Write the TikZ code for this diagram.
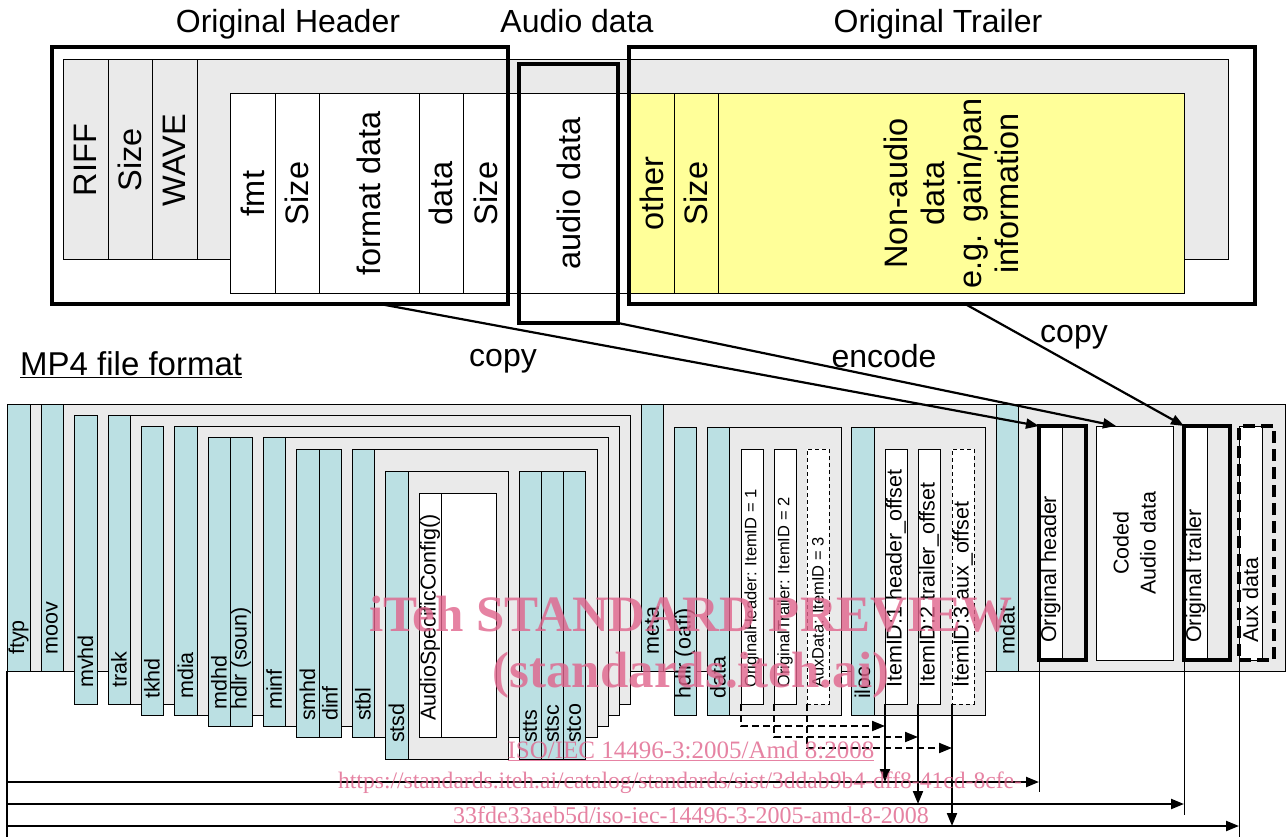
\documentclass[tikz,border=0pt]{standalone}
\usepackage{fontspec}
\setmainfont{Liberation Sans}
\newfontfamily\wmfont{Liberation Serif}
\usetikzlibrary{arrows.meta,calc}
\definecolor{boxgray}{RGB}{234,234,234}
\definecolor{boxcyan}{RGB}{187,224,227}
\definecolor{boxyellow}{RGB}{255,255,153}
\definecolor{wmpink}{RGB}{224,100,140}
\newcommand{\bx}[6]{\node[cell,#6,minimum width={#4-#2},minimum height={#5-#3}] (#1) at ({(#2+#4)/2},{(#3+#5)/2}) {};}
\begin{document}
\begin{tikzpicture}[x=1pt,y=-1pt,
  cell/.style={draw,rectangle,inner sep=0pt,outer sep=0pt,line width=1pt},
  gr/.style={fill=boxgray}, cy/.style={fill=boxcyan}, wh/.style={fill=white}, ye/.style={fill=boxyellow},
  thickbox/.style={line width=4.5pt},
  thickboxb/.style={line width=3.5pt},
  finedash/.style={dash pattern=on 4pt off 3pt},
  tlab/.style={rotate=90,font=\fontsize{32.5}{37}\selectfont,inner sep=0pt,align=center},
  blab/.style={rotate=90,anchor=west,font=\fontsize{21.5}{27}\selectfont,inner sep=0pt,align=center},
  slab/.style={blab,font=\fontsize{16.5}{19}\selectfont},
  title/.style={font=\fontsize{32}{36}\selectfont,anchor=base,inner sep=0pt},
  conn/.style={line width=2.2pt},
  arr/.style={-{Triangle[length=13pt,width=10pt]}},
  wm/.style={text=wmpink,text opacity=0.8,inner sep=0pt,anchor=base}]
\useasboundingbox (0,0) rectangle (1288,837);
\fill[white] (0,0) rectangle (1288,837);
% ---------- top: WAV file ----------
\bx{riffbg}{63}{60}{1228}{260}{gr}
\bx{riff}{63}{60}{108}{260}{gr}
\bx{size1}{108}{60}{152}{260}{gr}
\bx{wave}{152}{60}{197}{260}{gr}
\bx{fmt}{230}{94}{275}{293}{wh}
\bx{size2}{275}{94}{319}{293}{wh}
\bx{fdata}{319}{94}{419}{293}{wh}
\bx{datac}{419}{94}{463}{293}{wh}
\bx{size3}{463}{94}{508}{293}{wh}
\bx{audio}{508}{94}{630}{293}{wh}
\bx{other}{630}{94}{674}{293}{ye}
\bx{size4}{674}{94}{718}{293}{ye}
\bx{nonaudio}{718}{94}{1184}{293}{ye}
\node[tlab] (lriff) at (riff) {RIFF};
\node[tlab] (lsize1) at (size1) {Size};
\node[tlab] (lwave) at (wave) {WAVE};
\node[tlab] (lfmt) at (fmt) {fmt};
\node[tlab] (lsize2) at (size2) {Size};
\node[tlab] (lfdata) at (fdata) {format data};
\node[tlab] (ldatac) at (datac) {data};
\node[tlab] (lsize3) at (size3) {Size};
\node[tlab] (laudio) at (audio) {audio data};
\node[tlab] (lother) at (other) {other};
\node[tlab] (lsize4) at (size4) {Size};
\node[tlab] (lnon) at (nonaudio) {Non-audio\\data\\e.g. gain/pan\\information};
\bx{OH}{52}{47}{508}{304}{thickbox}
\bx{AD}{519}{64}{618}{323}{thickbox}
\bx{OT}{629}{47}{1255}{304}{thickbox}
\node[title] (tOH) at (288,33) {Original Header};
\node[title] (tAD) at (577,33) {Audio data};
\node[title] (tOT) at (938,33) {Original Trailer};
% ---------- bottom: MP4 file ----------
\node[title,anchor=base west,font=\fontsize{33}{37}\selectfont] (mp4) at (20,375) {\underline{MP4 file format}};
\bx{file}{7}{404}{1285}{671}{gr}
\bx{ftyp}{7}{404}{30}{671}{cy}
\bx{moov}{41}{404}{63}{671}{cy}
\bx{mvhd}{74}{415}{97}{704}{cy}
\bx{trakC}{108}{415}{630}{704}{gr}
\bx{trak}{108}{415}{130}{704}{cy}
\bx{tkhd}{141}{426}{163}{715}{cy}
\bx{mdiaC}{174}{426}{619}{715}{gr}
\bx{mdia}{174}{426}{197}{715}{cy}
\bx{mdhd}{208}{437}{230}{726}{cy}
\bx{hdlrs}{230}{437}{252}{726}{cy}
\bx{minfC}{263}{437}{608}{726}{gr}
\bx{minf}{263}{437}{285}{726}{cy}
\bx{smhd}{296}{449}{319}{737}{cy}
\bx{dinf}{319}{449}{341}{737}{cy}
\bx{stblC}{352}{449}{597}{737}{gr}
\bx{stbl}{352}{449}{374}{737}{cy}
\bx{stsdC}{385}{471}{508}{759}{gr}
\bx{stsd}{385}{471}{408}{759}{cy}
\bx{ascC}{419}{493}{496}{737}{wh}
\bx{asc}{419}{493}{441}{737}{wh}
\bx{stts}{519}{471}{541}{759}{cy}
\bx{stsc}{541}{471}{563}{759}{cy}
\bx{stco}{563}{471}{585}{759}{cy}
\bx{meta}{641}{404}{663}{671}{cy}
\bx{hdlro}{674}{427}{696}{715}{cy}
\bx{dataC}{707}{427}{841}{715}{gr}
\bx{data}{707}{427}{729}{715}{cy}
\bx{item1}{741}{449}{763}{704}{wh}
\bx{item2}{774}{449}{796}{704}{wh}
\bx{item3}{807}{449}{829}{704}{wh,finedash}
\bx{ilocC}{851}{427}{985}{715}{gr}
\bx{iloc}{851}{427}{874}{715}{cy}
\bx{off1}{885}{449}{907}{704}{wh}
\bx{off2}{918}{449}{940}{704}{wh}
\bx{off3}{952}{449}{974}{704}{wh,finedash}
\bx{mdat}{996}{404}{1018}{671}{cy}
\bx{mOHin}{1039}{426}{1062}{660}{wh}
\bx{mOH}{1039}{426}{1086}{660}{thickboxb}
\bx{coded}{1096}{426}{1173}{660}{wh}
\bx{mOTin}{1184}{426}{1207}{660}{wh}
\bx{mOT}{1184}{426}{1230}{660}{thickboxb}
\bx{mAuxin}{1239}{426}{1262}{660}{wh}
\bx{mAux}{1239}{426}{1274}{660}{thickboxb,dash pattern=on 12pt off 6pt}
% labels
\node[blab] (lftyp) at ([yshift=16pt]ftyp.south) {ftyp};
\node[blab] (lmoov) at ([yshift=16pt]moov.south) {moov};
\node[blab] (lmvhd) at ([yshift=16pt]mvhd.south) {mvhd};
\node[blab] (ltrak) at ([yshift=16pt]trak.south) {trak};
\node[blab] (ltkhd) at ([yshift=16pt]tkhd.south) {tkhd};
\node[blab] (lmdia) at ([yshift=16pt]mdia.south) {mdia};
\node[blab] (lmdhd) at ([yshift=16pt]mdhd.south) {mdhd};
\node[blab] (lhdlrs) at ([yshift=16pt]hdlrs.south) {hdlr (soun)};
\node[blab] (lminf) at ([yshift=16pt]minf.south) {minf};
\node[blab] (lsmhd) at ([yshift=16pt]smhd.south) {smhd};
\node[blab] (ldinf) at ([yshift=16pt]dinf.south) {dinf};
\node[blab] (lstbl) at ([yshift=16pt]stbl.south) {stbl};
\node[blab] (lstsd) at ([yshift=16pt]stsd.south) {stsd};
\node[blab] (lasc) at ([yshift=16pt]asc.south) {AudioSpecificConfig()};
\node[blab] (lstts) at ([yshift=16pt]stts.south) {stts};
\node[blab] (lstsc) at ([yshift=16pt]stsc.south) {stsc};
\node[blab] (lstco) at ([yshift=16pt]stco.south) {stco};
\node[blab] (lmeta) at ([yshift=16pt]meta.south) {meta};
\node[blab] (lhdlro) at ([yshift=16pt]hdlro.south) {hdlr (oafi)};
\node[blab] (ldata) at ([yshift=16pt]data.south) {data};
\node[slab] (litem1) at ([yshift=16pt]item1.south) {OriginalHeader: ItemID = 1};
\node[slab] (litem2) at ([yshift=16pt]item2.south) {OriginalTrailer: ItemID = 2};
\node[slab] (litem3) at ([yshift=16pt]item3.south) {AuxData: ItemID = 3};
\node[blab] (liloc) at ([yshift=16pt]iloc.south) {iloc};
\node[blab] (loff1) at ([yshift=16pt]off1.south) {ItemID:1 header\_offset};
\node[blab] (loff2) at ([yshift=16pt]off2.south) {ItemID:2 trailer\_offset};
\node[blab] (loff3) at ([yshift=16pt]off3.south) {ItemID:3 aux\_offset};
\node[blab] (lmdat) at ([yshift=16pt]mdat.south) {mdat};
\node[blab] (lmOH) at ([yshift=17pt]mOHin.south) {Original header};
\node[blab,anchor=center] (lcoded) at (coded) {Coded\\Audio data};
\node[blab] (lmOT) at ([yshift=17pt]mOTin.south) {Original trailer};
\node[blab] (lmAux) at ([yshift=17pt]mAuxin.south) {Aux data};
% offset arrows
\coordinate (Lend) at (7,837);
\coordinate (h1) at (7,782);
\coordinate (h2) at (7,804);
\coordinate (h3) at (7,826);
\draw[line width=2pt] (ftyp.south west) -- (Lend);
\draw[line width=2.2pt,arr] (h1) -- (h1 -| mOH.west);
\draw[line width=2.2pt,arr] (h2) -- (h2 -| mOT.west);
\draw[line width=2.2pt,arr] (h3) -- (h3 -| mAux.west);
\draw[line width=1pt] (mOH.south west) -- ++(0,132);
\draw[line width=1pt] (mOT.south west) -- ++(0,155);
\draw[line width=1pt] (mAux.south west) -- ++(0,177);
\draw[line width=2pt,arr] (off1.south west) -- (off1.south west |- h1);
\draw[line width=2pt,arr] (off2.south west) -- (off2.south west |- h2);
\draw[line width=2pt,arr] (off3.south west) -- (off3.south west |- h3);
\draw[line width=2pt,dash pattern=on 7pt off 4pt,arr] (item1.south west) |- ($(off1.south west)+(0,22)$);
\draw[line width=2pt,dash pattern=on 7pt off 4pt,arr] (item2.south west) |- ($(off2.south west)+(0,33)$);
\draw[line width=2pt,dash pattern=on 7pt off 4pt,arr] (item3.south west) |- ($(off3.south west)+(0,44)$);
% copy / encode connectors
\coordinate (c1s) at ($(OH.south west)!0.719!(OH.south east)$);
\coordinate (c3s) at ($(OT.south west)!0.537!(OT.south east)$);
\draw[conn,arr] (c1s) -- (mOH.north west);
\draw[conn,arr] (AD.south east) -- ($(coded.north west)+(20,0)$);
\draw[conn,arr] (c3s) -- (mOT.north west);
\node[title] (lcopy1) at (503,366) {copy};
\node[title] (lenc) at (884,367) {encode};
\node[title] (lcopy2) at (1074,342) {copy};
% watermark
\node[wm,font=\wmfont\bfseries\fontsize{51}{55}\selectfont] (wm1) at (691,631) {iTeh STANDARD PREVIEW};
\node[wm,font=\wmfont\bfseries\fontsize{51}{55}\selectfont] (wm2) at (691,687) {(standards.iteh.ai)};
\node[wm,font=\wmfont\fontsize{25}{28}\selectfont] (wm3) at (691,758) {\underline{ISO/IEC 14496-3:2005/Amd 8:2008}};
\node[wm,font=\wmfont\fontsize{23.6}{28}\selectfont] (wm4) at (680,788) {https://standards.iteh.ai/catalog/standards/sist/3ddab9b4-dff8-41cd-8cfe-};
\node[wm,font=\wmfont\fontsize{24}{28}\selectfont] (wm5) at (691,823) {33fde33aeb5d/iso-iec-14496-3-2005-amd-8-2008};
\end{tikzpicture}
\end{document}
